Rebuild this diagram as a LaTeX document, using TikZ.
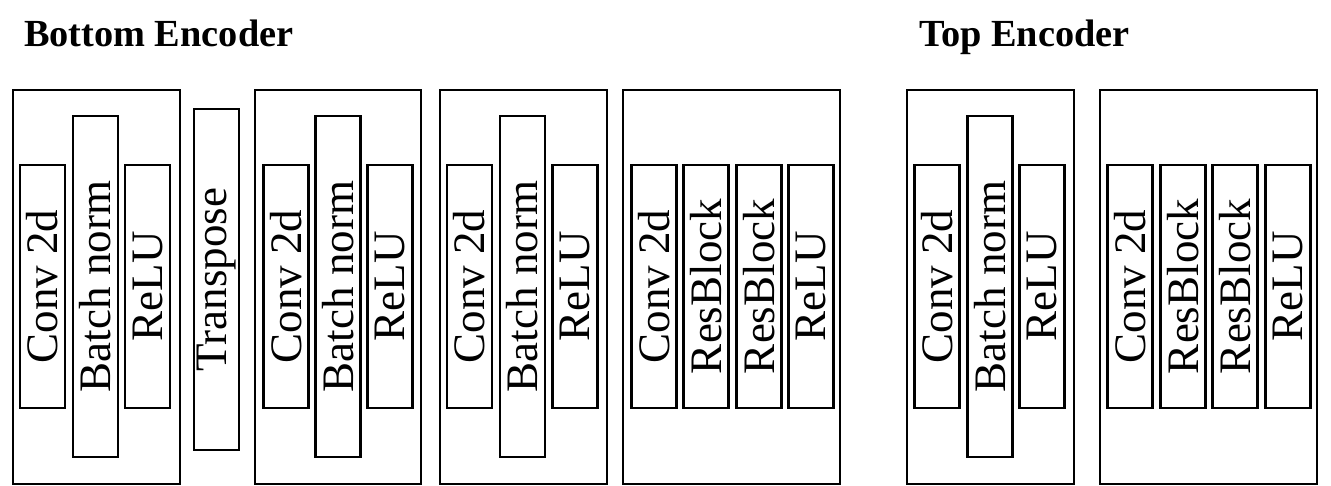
\documentclass[tikz,border=0pt]{standalone}
\usepackage{fontspec}
\setmainfont{Liberation Serif}

\begin{document}
\begin{tikzpicture}[x=0.01cm, y=-0.01cm, line width=0.6pt,
  font=\fontsize{12.8}{14}\selectfont,
  grp/.style={draw, inner sep=0pt, minimum height=3.94cm},
  lay/.style={draw, rotate=90, inner sep=0pt, minimum width=2.43cm, minimum height=0.45cm},
  tall/.style={lay, minimum width=3.4cm},
  ttl/.style={anchor=base west, inner sep=0pt, font=\fontsize{10.9}{13}\selectfont\bfseries}]
\useasboundingbox (0,0) rectangle (1331,485);
\node[ttl] (tbot) at (23,47) {Bottom Encoder};
\node[ttl] (ttop) at (918,47) {Top Encoder};
% bottom encoder
\node[grp, minimum width=1.67cm] (g1) at (96.5,287) {};
\node[lay] (c1) at (42.5,286.5) {Conv 2d};
\node[tall] (b1) at (95.5,286.5) {Batch norm};
\node[lay] (r1) at (147.5,286.5) {ReLU};
\node[tall] (tr) at (216.5,279.5) {Transpose};
\node[grp, minimum width=1.66cm] (g2) at (338,287) {};
\node[lay] (c2) at (286,286.5) {Conv 2d};
\node[tall] (b2) at (338,286.5) {Batch norm};
\node[lay] (r2) at (390,286.5) {ReLU};
\node[grp, minimum width=1.67cm] (g3) at (523.5,287) {};
\node[lay] (c3) at (469.5,286.5) {Conv 2d};
\node[tall] (b3) at (522.5,286.5) {Batch norm};
\node[lay] (r3) at (575,286.5) {ReLU};
\node[grp, minimum width=2.17cm] (g4) at (731.5,287) {};
\node[lay] (c4) at (654,286.5) {Conv 2d};
\node[lay] (rb4a) at (706,286.5) {ResBlock};
\node[lay] (rb4b) at (759,286.5) {ResBlock};
\node[lay] (r4) at (811,286.5) {ReLU};
% top encoder
\node[grp, minimum width=1.67cm] (g5) at (990.5,287) {};
\node[lay] (c5) at (937,286.5) {Conv 2d};
\node[tall] (b5) at (990,286.5) {Batch norm};
\node[lay] (r5) at (1042,286.5) {ReLU};
\node[grp, minimum width=2.17cm] (g6) at (1208.5,287) {};
\node[lay] (c6) at (1130,286.5) {Conv 2d};
\node[lay] (rb6a) at (1183,286.5) {ResBlock};
\node[lay] (rb6b) at (1235,286.5) {ResBlock};
\node[lay] (r6) at (1288,286.5) {ReLU};
\end{tikzpicture}
\end{document}
